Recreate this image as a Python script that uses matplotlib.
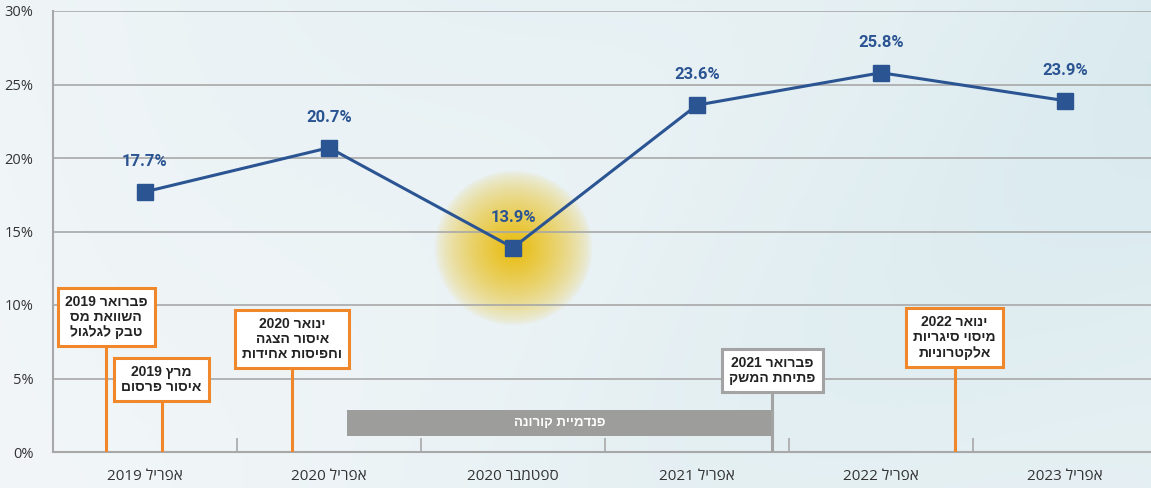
import re
import numpy as np
import matplotlib
matplotlib.use("Agg")
import matplotlib.pyplot as plt
from matplotlib.colors import to_rgb

# data
periods = ["אפריל 2019", "אפריל 2020", "ספטמבר 2020", "אפריל 2021", "אפריל 2022", "אפריל 2023"]
values = [17.7, 20.7, 13.9, 23.6, 25.8, 23.9]
yticks = [0, 5, 10, 15, 20, 25, 30]

event_texts = ["פברואר 2019\nהשוואת מס\nטבק לגלגול",
               "מרץ 2019\nאיסור פרסום",
               "ינואר 2020\nאיסור הצגה\nוחפיסות אחידות",
               "פברואר 2021\nפתיחת המשק",
               "ינואר 2022\nמיסוי סיגריות\nאלקטרוניות"]
event_x = [-0.21, 0.09, 0.80, 3.41, 4.40]
event_box_y = [9.18, 4.93, 7.69, 5.54, 7.79]
event_colors = ["#f0872a", "#f0872a", "#f0872a", "#a3a3a3", "#f0872a"]

covid_label = "פנדמיית קורונה"
covid_start, covid_end = 1.10, 3.41

BLUE = "#2b5492"
HEB = ["Open Sans", "Liberation Sans", "DejaVu Sans"]
HEB_BOLD = ["Liberation Sans", "DejaVu Sans"]


def heb(s):
    # matplotlib has no bidi support, flip hebrew to visual order
    lines = []
    for line in s.split("\n"):
        r = line[::-1]
        r = re.sub(r"[0-9.%]+", lambda m: m.group(0)[::-1], r)
        lines.append(r)
    return "\n".join(lines)


plt.rcParams["font.family"] = HEB

fig = plt.figure(figsize=(11.51, 4.88), dpi=100)

# background gradient
bg = fig.add_axes([0, 0, 1, 1])
gx, gy = np.meshgrid(np.linspace(0, 1, 300), np.linspace(0, 1, 130))
t = np.clip(0.1 + 0.6 * gx + 0.15 * np.sin(gx * 7 + gy * 4) * gx - 0.1 * gy, 0, 1)
c0 = np.array(to_rgb("#f2f6f8"))
c1 = np.array(to_rgb("#d5e8ed"))
img = c0[None, None, :] * (1 - t[..., None]) + c1[None, None, :] * t[..., None]
bg.imshow(img, aspect="auto", extent=[0, 1, 0, 1], origin="upper")
bg.axis("off")

ax = fig.add_axes([53 / 1151, 36 / 488, 1104 / 1151, 441 / 488])
ax.patch.set_alpha(0)
x = np.arange(len(values))

# yellow glow around september 2020
gx, gy = np.meshgrid(np.linspace(-1, 1, 200), np.linspace(-1, 1, 200))
rr = np.sqrt(gx ** 2 + gy ** 2)
glow = np.zeros((200, 200, 4))
glow[..., :3] = to_rgb("#e9bc0c")
glow[..., 3] = np.clip(1 - rr, 0, 1) ** 0.7
ax.imshow(glow, extent=[2 - 0.43, 2 + 0.43, 13.9 - 5.3, 13.9 + 5.3], aspect="auto", zorder=0.2)

ax.plot(x, values, color=BLUE, lw=2.2, marker="s", markersize=11.5, zorder=5)
for xi, v in zip(x, values):
    ax.annotate(f"{v}%", (xi, v), xytext=(0, 22), textcoords="offset points",
                ha="center", va="center", color=BLUE, fontsize=12, fontweight="bold",
                family=["Roboto", "DejaVu Sans"], zorder=6)

# covid bar
ax.barh(1.97, covid_end - covid_start, left=covid_start, height=1.77, color="#9d9d9c", zorder=3)
ax.text((covid_start + covid_end) / 2, 1.97, heb(covid_label), ha="center", va="center",
        color="white", fontsize=9.5, fontweight="bold", family=HEB_BOLD, zorder=4)

# event boxes, line runs up behind the box
for txt, ex, by, col in zip(event_texts, event_x, event_box_y, event_colors):
    ax.plot([ex, ex], [0, by], color=col, lw=2.2, zorder=4, solid_capstyle="butt")
    ax.text(ex, by, heb(txt), ha="center", va="center", fontsize=10, fontweight="bold",
            family=HEB_BOLD, color="#222222", linespacing=1.1, zorder=7,
            bbox=dict(boxstyle="square,pad=0.5", facecolor="white", edgecolor=col, lw=2.2))

ax.set_xlim(-0.5, 5.5)
ax.set_ylim(0, 30)
ax.set_yticks(yticks)
ax.set_yticklabels([f"{v}%" for v in yticks], fontsize=10.5, color="#333333")
ax.set_xticks(x)
ax.set_xticklabels([heb(p) for p in periods], fontsize=11, color="#333333")
ax.set_xticks(np.arange(0.5, 5, 1), minor=True)
ax.tick_params(axis="x", which="major", length=0, pad=12)
ax.tick_params(axis="x", which="minor", direction="in", length=10, color="#a8a8a8", width=1.2)
ax.tick_params(axis="y", length=0, pad=14)
ax.grid(axis="y", color="#a8a8a8", lw=1.2)
ax.set_axisbelow(True)
for s in ["top", "right"]:
    ax.spines[s].set_visible(False)
for s in ["left", "bottom"]:
    ax.spines[s].set_color("#a8a8a8")
    ax.spines[s].set_linewidth(1.5)

plt.savefig("out.png", dpi=100)
